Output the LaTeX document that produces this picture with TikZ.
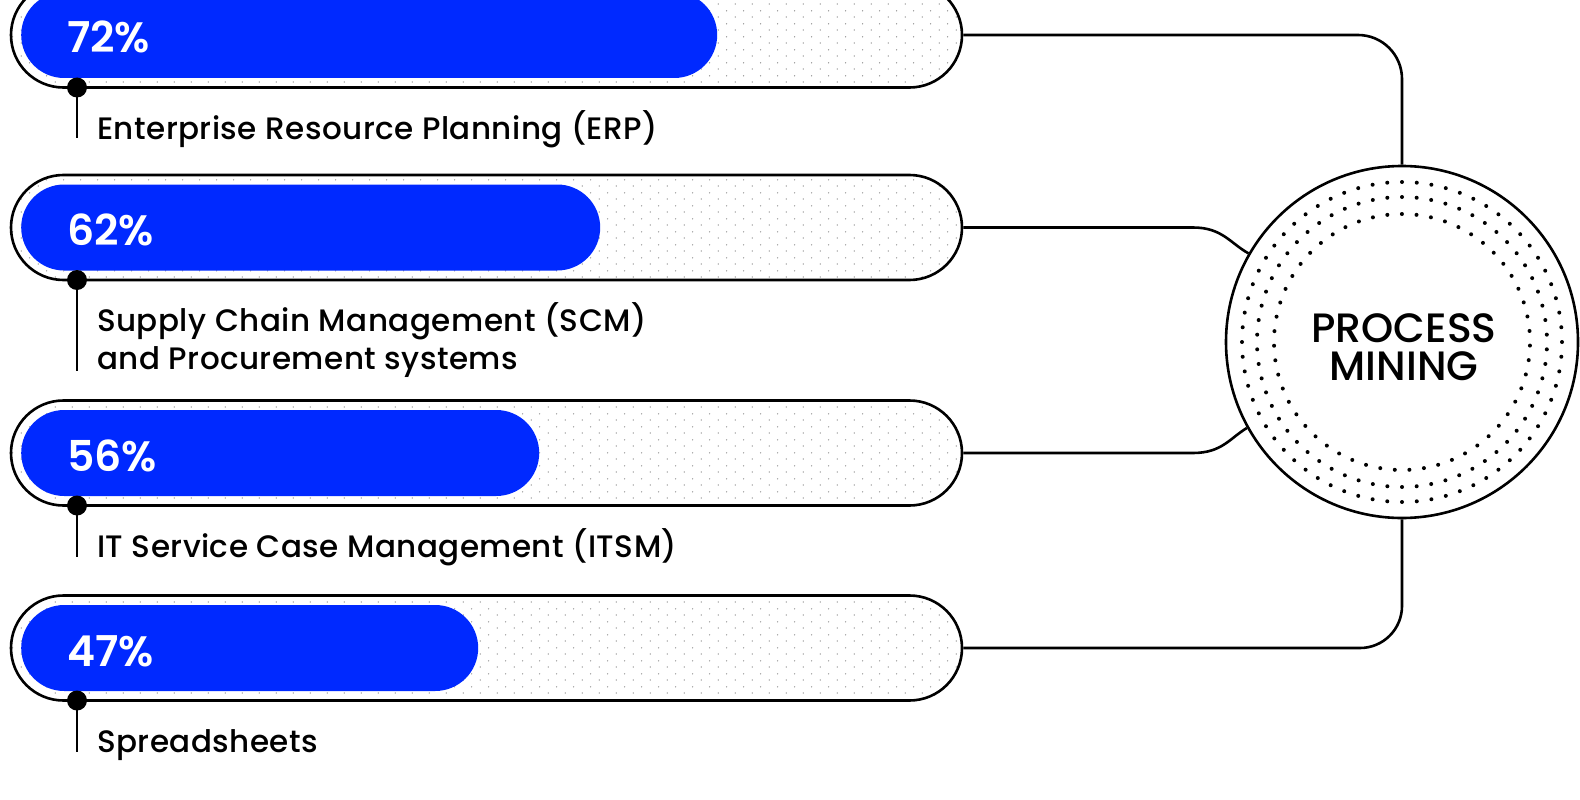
\documentclass[tikz,border=0pt]{standalone}
\usepackage{fontspec}
\setmainfont{Poppins}
\newfontfamily\poplbl{Poppins Medium}[LetterSpace=1.5]
\newfontfamily\popmed{Poppins Medium}
\newfontfamily\popsemi{Poppins SemiBold}
\usetikzlibrary{shapes.misc,patterns}
\definecolor{barblue}{HTML}{0029FF}
\pgfdeclarepatternformonly{hexdots}{\pgfqpoint{0pt}{0pt}}{\pgfqpoint{17.4pt}{13pt}}{\pgfqpoint{17.4pt}{13pt}}{%
  \pgfpathcircle{\pgfqpoint{4.35pt}{3.25pt}}{0.65pt}%
  \pgfpathcircle{\pgfqpoint{13.05pt}{9.75pt}}{0.65pt}%
  \pgfusepath{fill}}
\begin{document}
\begin{tikzpicture}[x=1pt,y=-1pt,
  track/.style={rounded rectangle, draw=black, line width=2.6pt, minimum width=951pt,
    minimum height=105pt, inner sep=0pt, pattern=hexdots, pattern color=black!55},
  fillbar/.style={rounded rectangle, fill=barblue, minimum height=86pt, inner sep=0pt, anchor=west},
  pct/.style={anchor=base west, inner sep=0pt, text=white, font=\popsemi\fontsize{42.5}{44}\selectfont},
  lbl/.style={anchor=base west, inner sep=0pt, font=\poplbl\fontsize{31}{36}\selectfont},
  pin/.style={circle, fill=black, minimum size=20pt, inner sep=0pt},
  wire/.style={line width=2.6pt, line join=round},
  ringdot/.style={fill=black}]
\useasboundingbox (0,0) rectangle (1580,800);

% tracks
\node[track] (t1) at (486.5,35) {};
\node[track] (t2) at (486.5,227.5) {};
\node[track] (t3) at (486.5,453) {};
\node[track] (t4) at (486.5,648) {};

% blue fills
\node[fillbar, minimum width=696pt] (f1) at (21,35) {};
\node[fillbar, minimum width=579pt] (f2) at (21,227.5) {};
\node[fillbar, minimum width=518pt] (f3) at (21,453) {};
\node[fillbar, minimum width=457pt] (f4) at (21,648) {};

% percentages
\node[pct] (p1) at (67,53) {72\%};
\node[pct] (p2) at (67,245.5) {62\%};
\node[pct] (p3) at (67,471) {56\%};
\node[pct] (p4) at (67,666) {47\%};

% pins and ticks
\node[pin] (d1) at (77,87.5) {};
\node[pin] (d2) at (77,280) {};
\node[pin] (d3) at (77,505.5) {};
\node[pin] (d4) at (77,700.5) {};
\coordinate (e1) at (77,138);
\coordinate (e2) at (77,371);
\coordinate (e3) at (77,557);
\coordinate (e4) at (77,752);
\draw[wire] (d1.center) -- (e1);
\draw[wire] (d2.center) -- (e2);
\draw[wire] (d3.center) -- (e3);
\draw[wire] (d4.center) -- (e4);

% labels
\node[lbl] (l1) at (97,139) {Enterprise Resource Planning (ERP)};
\node[lbl] (l2a) at (97,331) {Supply Chain Management (SCM)};
\node[lbl] (l2b) at (97,369.5) {and Procurement systems};
\node[lbl] (l3) at (97,557.5) {IT Service Case Management (ITSM)};
\node[lbl] (l4) at (97,752.5) {Spreadsheets};

% process mining circle
\node[draw, circle, line width=2.6pt, minimum size=352pt, inner sep=0pt] (pm) at (1402,342) {};
\foreach \nn/\rr/\oo in {68/160/0, 62/145/2.9, 55/128/1.6}{
  \foreach \ii in {1,...,\nn}{
    \pgfmathsetmacro{\aa}{\ii/\nn*360+\oo}
    \fill[ringdot] ({1402+\rr*cos(\aa)},{342+\rr*sin(\aa)}) circle (2pt);
  }
}
\node[font=\popmed\fontsize{41}{38}\selectfont, align=center, inner sep=0pt] (pmt) at (1404,347.5) {PROCESS\\MINING};

% connectors
\draw[wire, rounded corners=44pt] (t1.east) -| (pm.north);
\draw[wire] (t2.east) -- (1193,227.5) .. controls (1222,227.5) and (1230,243) .. (pm.150.5);
\draw[wire] (t3.east) -- (1193,453) .. controls (1222,453) and (1230,438) .. (pm.209.5);
\draw[wire, rounded corners=42pt] (t4.east) -| (pm.south);
\end{tikzpicture}
\end{document}
